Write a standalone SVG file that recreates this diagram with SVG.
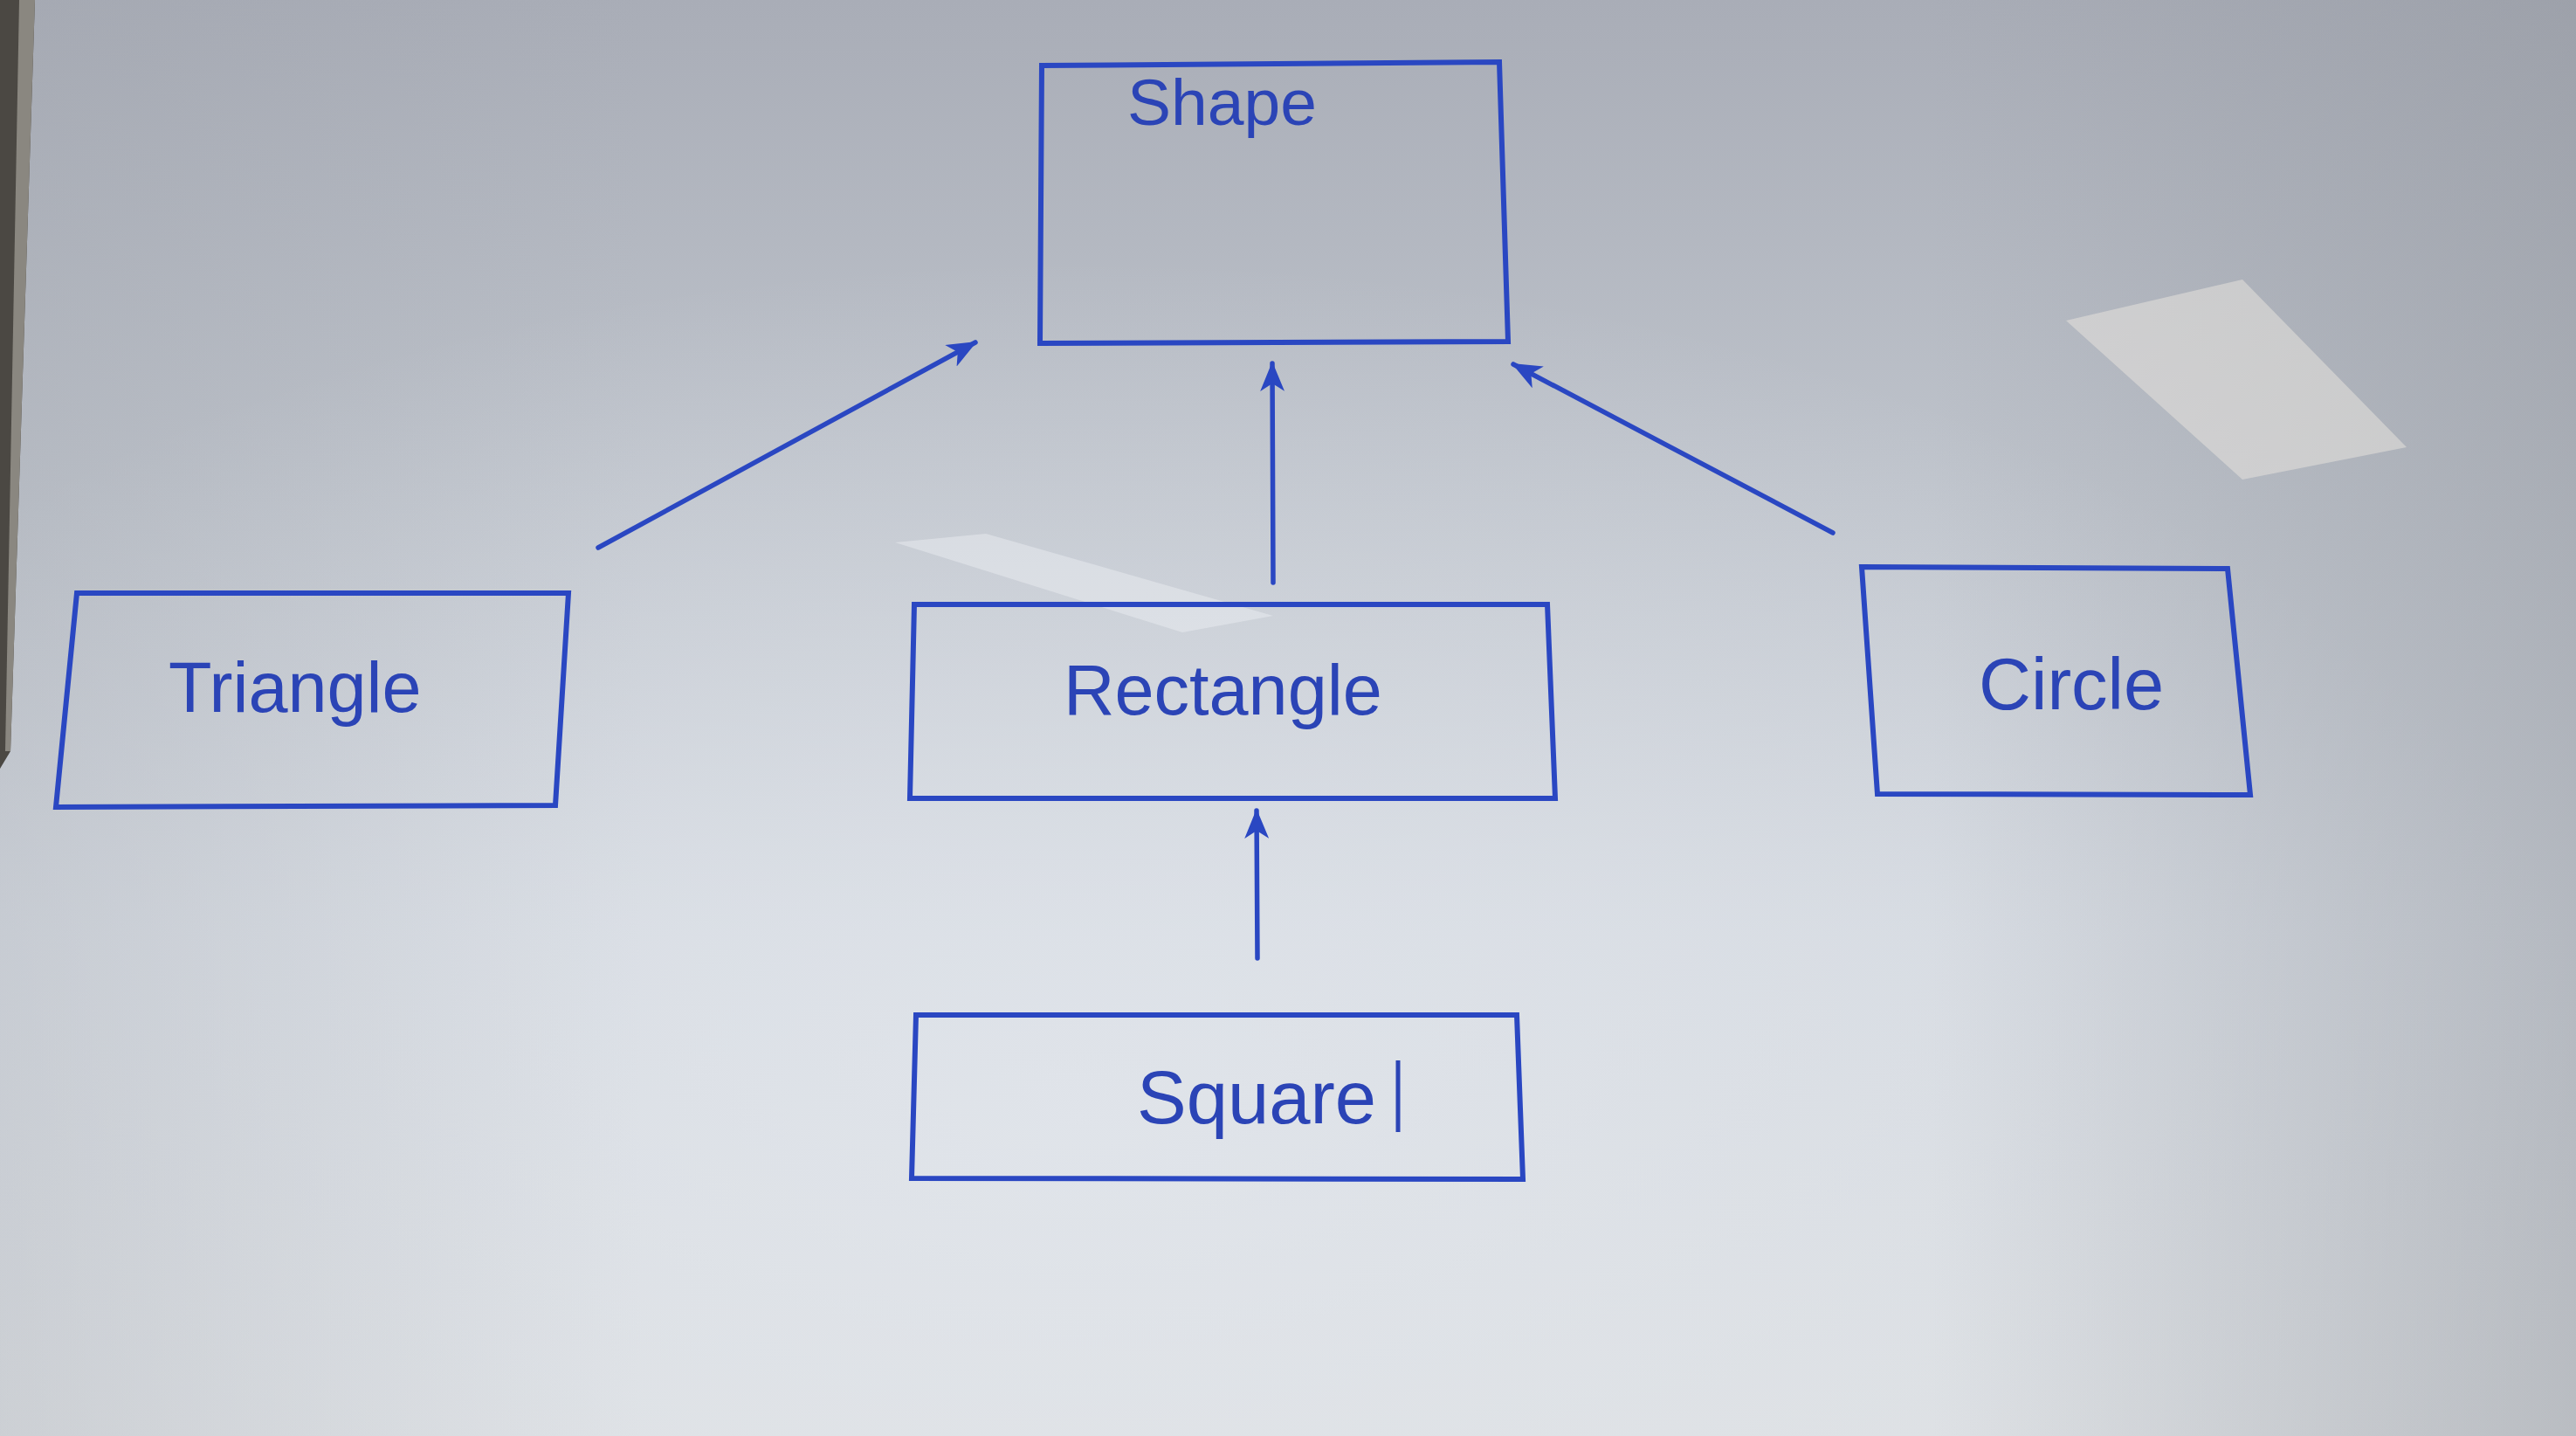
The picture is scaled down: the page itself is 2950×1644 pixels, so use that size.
<svg xmlns="http://www.w3.org/2000/svg" width="2950" height="1644" viewBox="0 0 2950 1644">
<defs>
<linearGradient id="bgv" x1="0" y1="0" x2="0" y2="1">
<stop offset="0" stop-color="#a9adb7"/>
<stop offset="0.35" stop-color="#bfc4cc"/>
<stop offset="0.65" stop-color="#d3d8df"/>
<stop offset="1" stop-color="#dcdfe2"/>
</linearGradient>
<radialGradient id="bgr" cx="0.42" cy="0.78" r="0.6">
<stop offset="0" stop-color="#e4e8ee" stop-opacity="0.7"/>
<stop offset="1" stop-color="#e4e8ee" stop-opacity="0"/>
</radialGradient>
<linearGradient id="bgh" x1="0" y1="0" x2="1" y2="0">
<stop offset="0" stop-color="#9a9ea6" stop-opacity="0.25"/>
<stop offset="0.25" stop-color="#9a9ea6" stop-opacity="0"/>
<stop offset="0.75" stop-color="#8f939b" stop-opacity="0"/>
<stop offset="1" stop-color="#8f939b" stop-opacity="0.45"/>
</linearGradient>
<marker id="arrow" markerUnits="userSpaceOnUse" markerWidth="34" markerHeight="28" viewBox="0 0 34 28" refX="32" refY="14" orient="auto">
<path d="M0,0 L34,14 L0,28 L9,14 z" fill="#2a47c2"/>
</marker>
<style>
.box{fill:none;stroke:#2a47c2;stroke-width:6;stroke-linejoin:miter}
.lbl{font-family:"Liberation Sans",Arial,sans-serif;fill:#2b44b6}
.conn{stroke:#2a47c2;stroke-width:5.5;fill:none;stroke-linecap:round;marker-end:url(#arrow)}
</style>
</defs>
<g id="background">
<rect x="0" y="0" width="2950" height="1644" fill="url(#bgv)"/>
<rect x="0" y="0" width="2950" height="1644" fill="url(#bgr)"/>
<rect x="0" y="0" width="2950" height="1644" fill="url(#bgh)"/>
<polygon points="2366,367 2568,320 2756,512 2568,549" fill="#e6e2dc" opacity="0.55"/>
<polygon points="1025,621 1129,611 1458,705 1354,724" fill="#eef0f3" opacity="0.45"/>
<polygon points="0,0 40,0 12,860 0,880" fill="#4b4843"/>
<polygon points="22,0 40,0 12,860 6,860" fill="#8a8780"/>
</g>
<g id="connectors">
<line class="conn" x1="685" y1="627" x2="1117" y2="392"/>
<line class="conn" x1="1458" y1="667" x2="1457" y2="416"/>
<line class="conn" x1="2099" y1="610" x2="1733" y2="417"/>
<line class="conn" x1="1440" y1="1097" x2="1439" y2="928"/>
</g>
<g id="node-shape">
<polygon class="box" points="1193,75 1717,71 1727,391 1191,393"/>
<text class="lbl" x="1291" y="143" font-size="75">Shape</text>
</g>
<g id="node-triangle">
<polygon class="box" points="88,679 651,679 636,922 64,924"/>
<text class="lbl" x="193" y="815" font-size="81">Triangle</text>
</g>
<g id="node-rectangle">
<polygon class="box" points="1047,692 1772,692 1781,914 1042,914"/>
<text class="lbl" x="1218" y="818" font-size="81">Rectangle</text>
</g>
<g id="node-circle">
<polygon class="box" points="2132,649 2551,651 2577,910 2150,909"/>
<text class="lbl" x="2266" y="812" font-size="83">Circle</text>
</g>
<g id="node-square">
<polygon class="box" points="1049,1162 1737,1162 1744,1350 1044,1349"/>
<text class="lbl" x="1302" y="1286" font-size="85">Square</text>
<line x1="1601" y1="1214" x2="1601" y2="1296" stroke="#2b44b6" stroke-width="5"/>
</g>
</svg>
